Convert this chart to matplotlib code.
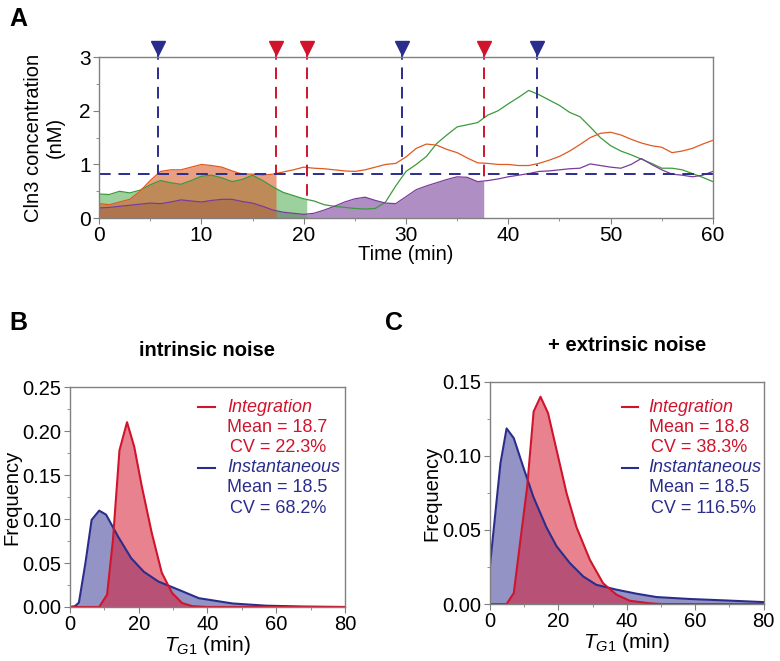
import numpy as np
import matplotlib
matplotlib.use('Agg')
import matplotlib.pyplot as plt
from matplotlib.ticker import MultipleLocator, FormatStrFormatter

plt.rcParams['font.family'] = ['Liberation Sans', 'DejaVu Sans']
plt.rcParams['mathtext.fontset'] = 'custom'
plt.rcParams['mathtext.it'] = 'Liberation Sans:italic'
plt.rcParams['mathtext.rm'] = 'Liberation Sans'

# ---- panel A data: Cln3 traces of three cells (min, nM)
t_orange = np.arange(0, 61)
c_orange = [0.27, 0.25, 0.30, 0.35, 0.50, 0.70, 0.87, 0.90, 0.90, 0.95,
            1.00, 0.98, 0.95, 0.88, 0.82, 0.82, 0.80, 0.82, 0.86, 0.90,
            0.95, 0.93, 0.92, 0.90, 0.88, 0.87, 0.90, 0.95, 1.00, 1.02,
            1.14, 1.30, 1.38, 1.36, 1.28, 1.22, 1.12, 1.03, 1.02, 1.00,
            1.00, 0.98, 0.98, 1.02, 1.08, 1.15, 1.25, 1.37, 1.50, 1.58,
            1.60, 1.55, 1.47, 1.40, 1.35, 1.32, 1.22, 1.25, 1.30, 1.38, 1.45]
t_green = np.arange(0, 61)
c_green = [0.45, 0.44, 0.50, 0.47, 0.52, 0.62, 0.70, 0.66, 0.63, 0.70,
           0.78, 0.80, 0.75, 0.68, 0.72, 0.80, 0.70, 0.58, 0.48, 0.42,
           0.36, 0.32, 0.25, 0.22, 0.20, 0.18, 0.17, 0.18, 0.30, 0.60,
           0.87, 1.00, 1.15, 1.39, 1.55, 1.70, 1.74, 1.78, 1.92, 2.00,
           2.13, 2.25, 2.38, 2.30, 2.20, 2.10, 1.97, 1.89, 1.70, 1.50,
           1.35, 1.25, 1.18, 1.10, 1.02, 0.93, 0.93, 0.90, 0.83, 0.76, 0.68]
t_purple = np.arange(0, 61)
c_purple = [0.19, 0.20, 0.22, 0.24, 0.26, 0.28, 0.27, 0.30, 0.34, 0.32,
            0.30, 0.33, 0.35, 0.35, 0.31, 0.28, 0.22, 0.15, 0.11, 0.09,
            0.07, 0.09, 0.15, 0.22, 0.30, 0.36, 0.39, 0.33, 0.28, 0.27,
            0.40, 0.53, 0.60, 0.66, 0.72, 0.77, 0.76, 0.68, 0.70, 0.73,
            0.77, 0.80, 0.83, 0.87, 0.88, 0.90, 0.92, 0.93, 1.01, 0.98,
            0.95, 0.93, 1.00, 1.11, 1.00, 0.90, 0.82, 0.80, 0.77, 0.80, 0.87]
threshold = 0.83
div_orange, div_green, div_purple = 17.3, 20.3, 37.6   # integration (red)
inst_times = [5.8, 29.6, 42.8]                          # instantaneous (blue)
inst_levels = [0.83, 0.83, 0.97]

# ---- panels B, C: T_G1 distributions
b_int_x = [0, 8.5, 10.8, 12.5, 14.4, 16.6, 18.7, 20.9, 23.8, 26.7, 29.7, 32.6, 35.5, 40, 80]
b_int_y = [0, 0, 0.014, 0.076, 0.178, 0.210, 0.182, 0.137, 0.084, 0.039, 0.016, 0.0045, 0.001, 0, 0]
b_ins_x = [0, 1.5, 2.6, 4.5, 6.3, 8.5, 10.5, 14, 17.8, 21.5, 25.7, 31.6, 37.5, 47.3, 57, 68, 80]
b_ins_y = [0, 0.001, 0.005, 0.05, 0.099, 0.1095, 0.105, 0.08, 0.0555, 0.04, 0.029, 0.0196, 0.010, 0.004, 0.0015, 0.0005, 0]
c_int_x = [0, 4.9, 7.0, 9.2, 10.9, 12.8, 14.8, 17.0, 19.5, 22.4, 25.3, 29.2, 33.1, 37, 40.9, 46.7, 50, 80]
c_int_y = [0, 0, 0.0074, 0.048, 0.079, 0.130, 0.140, 0.129, 0.104, 0.075, 0.052, 0.030, 0.014, 0.0063, 0.0022, 0.0005, 0, 0]
c_ins_x = [0, 3.1, 4.9, 7.0, 9.7, 12.7, 16.5, 19.5, 23.4, 27.3, 31.1, 37, 42.8, 48.7, 58.4, 68, 80]
c_ins_y = [0.025, 0.095, 0.1186, 0.112, 0.093, 0.0725, 0.052, 0.039, 0.0276, 0.0186, 0.013, 0.0097, 0.007, 0.0047, 0.0034, 0.0025, 0.0013]
b_stats = [('Integration', '18.7', '22.3%'), ('Instantaneous', '18.5', '68.2%')]
c_stats = [('Integration', '18.8', '38.3%'), ('Instantaneous', '18.5', '116.5%')]

RED = '#d0142c'
NAVY = '#2b2d8c'
SPINE = '#808080'
FS = 15

fig = plt.figure(figsize=(7.8, 6.61), dpi=100)


def style_axes(ax, fs=FS):
    for s in ax.spines.values():
        s.set_color(SPINE)
        s.set_linewidth(1.0)
    ax.tick_params(which='major', direction='out', length=4, color=SPINE, labelsize=fs, pad=2)
    ax.tick_params(which='minor', direction='out', length=2.5, color=SPINE)


# ---------------- Panel A
axA = fig.add_axes([0.127, 0.670, 0.787, 0.2436])
style_axes(axA)
tp = np.array(t_purple); cp = np.array(c_purple)
tg = np.array(t_green); cg = np.array(c_green)
to = np.array(t_orange); co = np.array(c_orange)


def fill_until(t, c, tdiv, color, alpha):
    tt = np.append(t[t < tdiv], tdiv)
    cc = np.append(c[t < tdiv], np.interp(tdiv, t, c))
    axA.fill_between(tt, 0, cc, color=color, alpha=alpha, lw=0)


fill_until(tp, cp, div_purple, '#7e4a9e', 0.62)
fill_until(tg, cg, div_green, '#4caa4c', 0.55)
fill_until(to, co, div_orange, '#d85a28', 0.58)
axA.plot(tg, cg, color='#3c9a3c', lw=0.9)
axA.plot(tp, cp, color='#7b3b9b', lw=0.9)
axA.plot(to, co, color='#e05a20', lw=0.9)

axA.axhline(threshold, color=NAVY, lw=1.4, dashes=(6, 4))
ytop = 3.17
for x, lev in zip(inst_times, inst_levels):
    axA.plot([x, x], [ytop, lev], color=NAVY, lw=1.4, dashes=(6, 4), clip_on=False)
    axA.plot([x], [ytop], marker='v', ms=10, color=NAVY, clip_on=False)
for x, tr, cc in [(div_orange, to, co), (div_green, tg, cg), (div_purple, tp, cp)]:
    lev = np.interp(x, tr, cc)
    axA.plot([x, x], [ytop, lev], color=RED, lw=1.4, dashes=(6, 4), clip_on=False)
    axA.plot([x], [ytop], marker='v', ms=10, color=RED, clip_on=False)

axA.set_xlim(0, 60)
axA.set_ylim(0, 3)
axA.xaxis.set_major_locator(MultipleLocator(10))
axA.xaxis.set_minor_locator(MultipleLocator(5))
axA.yaxis.set_major_locator(MultipleLocator(1))
axA.yaxis.set_minor_locator(MultipleLocator(0.5))
axA.set_xlabel('Time (min)', fontsize=14.5, labelpad=0)
axA.set_ylabel('Cln3 concentration\n(nM)', fontsize=14.5, labelpad=10)
fig.text(0.012, 0.99, 'A', fontsize=18, fontweight='bold', va='top')


# ---------------- Panels B and C
def dist_panel(rect, xi, yi, xs, ys, stats, ymax, title, letter, letter_x, leg):
    ax = fig.add_axes(rect)
    style_axes(ax, 14.5)
    ax.fill_between(xs, 0, ys, color='#3a3a98', alpha=0.55, lw=0)
    ax.plot(xs, ys, color=NAVY, lw=1.5)
    ax.fill_between(xi, 0, yi, color='#d81c34', alpha=0.55, lw=0)
    ax.plot(xi, yi, color=RED, lw=1.5)
    ax.set_xlim(0, 80)
    ax.set_ylim(0, ymax)
    ax.xaxis.set_major_locator(MultipleLocator(20))
    ax.xaxis.set_minor_locator(MultipleLocator(10))
    ax.yaxis.set_major_locator(MultipleLocator(0.05))
    ax.yaxis.set_minor_locator(MultipleLocator(0.025))
    ax.yaxis.set_major_formatter(FormatStrFormatter('%.2f'))
    ax.set_xlabel(r'$\mathit{T}_{\mathit{G1}}$ (min)', fontsize=FS, labelpad=0)
    ax.set_ylabel('Frequency', fontsize=14.5, labelpad=1)
    ax.set_title(title, fontsize=14.5, fontweight='bold', pad=22)
    lx0, lx1, tx, ys_ = leg
    for k, (col, (name, mean, cv)) in enumerate(zip([RED, NAVY], stats)):
        y0 = ys_[3 * k]
        ax.plot([lx0, lx1], [y0, y0], transform=ax.transAxes, color=col, lw=1.5)
        ax.text(tx, y0, name, transform=ax.transAxes, color=col, fontsize=13,
                style='italic', va='center')
        ax.text(tx, ys_[3 * k + 1], 'Mean = ' + mean, transform=ax.transAxes,
                color=col, fontsize=13, va='center')
        ax.text(tx + 0.01, ys_[3 * k + 2], 'CV = ' + cv, transform=ax.transAxes,
                color=col, fontsize=13, va='center')
    fig.text(letter_x, 0.53, letter, fontsize=18, fontweight='bold', va='top')
    return ax


dist_panel([0.0897, 0.0817, 0.3526, 0.3328], b_int_x, b_int_y, b_ins_x, b_ins_y,
           b_stats, 0.25, 'intrinsic noise', 'B', 0.012,
           (0.465, 0.527, 0.571, [0.909, 0.814, 0.723, 0.632, 0.541, 0.45]))
dist_panel([0.628, 0.0862, 0.351, 0.336], c_int_x, c_int_y, c_ins_x, c_ins_y,
           c_stats, 0.15, '+ extrinsic noise', 'C', 0.494,
           (0.482, 0.54, 0.58, [0.887, 0.793, 0.703, 0.613, 0.523, 0.432]))

fig.savefig('out.png', dpi=100)
